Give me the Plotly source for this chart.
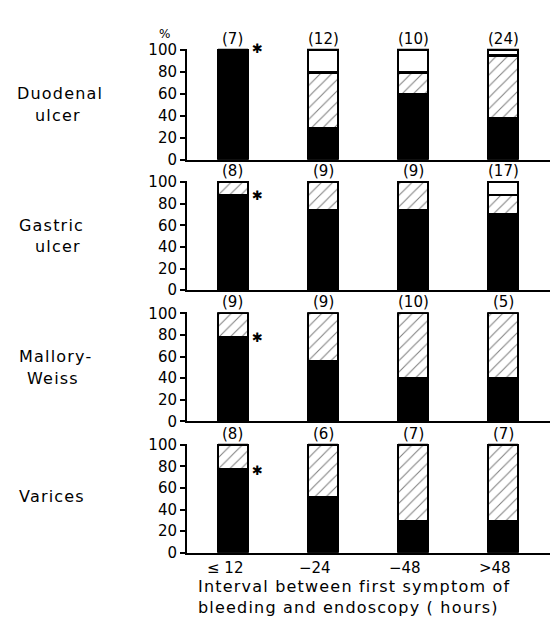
import plotly.graph_objects as go

W, H = 557, 624

categories = ["≤ 12", "−24", "−48", ">48"]
panels = ["Duodenal ulcer", "Gastric ulcer", "Mallory-Weiss", "Varices"]

black_vals = {
    "Duodenal ulcer": [100, 29, 60, 38],
    "Gastric ulcer": [88, 74, 74, 70],
    "Mallory-Weiss": [78, 56, 40, 40],
    "Varices": [78, 52, 30, 30],
}
hatched_vals = {
    "Duodenal ulcer": [0, 50, 19, 57],
    "Gastric ulcer": [12, 26, 26, 18],
    "Mallory-Weiss": [22, 44, 60, 60],
    "Varices": [22, 48, 70, 70],
}
white_vals = {
    "Duodenal ulcer": [0, 21, 21, 5],
    "Gastric ulcer": [0, 0, 0, 12],
    "Mallory-Weiss": [0, 0, 0, 0],
    "Varices": [0, 0, 0, 0],
}
counts = {
    "Duodenal ulcer": ["(7)", "(12)", "(10)", "(24)"],
    "Gastric ulcer": ["(8)", "(9)", "(9)", "(17)"],
    "Mallory-Weiss": ["(9)", "(9)", "(10)", "(5)"],
    "Varices": ["(8)", "(6)", "(7)", "(7)"],
}
star_level = {"Duodenal ulcer": 101, "Gastric ulcer": 88, "Mallory-Weiss": 78, "Varices": 76}
label_lines = {
    "Duodenal ulcer": [("Duodenal", 15), ("ulcer", 33)],
    "Gastric ulcer": [("Gastric", 17), ("ulcer", 33)],
    "Mallory-Weiss": [("Mallory-", 17), ("Weiss", 25)],
    "Varices": [("Varices", 17)],
}
y_ticks = [0, 20, 40, 60, 80, 100]
x_title_lines = ["Interval between first symptom of", "bleeding and endoscopy ( hours)"]

FONT = "DejaVu Sans"
panel_px = [(43, 156), (179, 290), (314, 425), (449, 560)]
YMAX = 101


def spaced(t):
    return '<span style="letter-spacing:1.2px">' + t + "</span>"


def px_x(x):
    return x / W


def px_y(y):
    return 1 - y / H


fig = go.Figure()
x_idx = list(range(len(categories)))

for p, name in enumerate(panels):
    sfx = "" if p == 0 else str(p + 1)
    xa, ya = "x" + sfx, "y" + sfx
    common = dict(x=x_idx, width=0.33, xaxis=xa, yaxis=ya, showlegend=False, hoverinfo="skip")
    fig.add_trace(go.Bar(y=black_vals[name], marker=dict(color="black", line=dict(color="black", width=2)), **common))
    fig.add_trace(go.Bar(y=hatched_vals[name],
                         marker=dict(color="white", line=dict(color="black", width=2),
                                     pattern=dict(shape="/", fgcolor="black", bgcolor="white", size=8, solidity=0.13)),
                         **common))
    fig.add_trace(go.Bar(y=white_vals[name], marker=dict(color="white", line=dict(color="black", width=2.5)), **common))

    top, bot = panel_px[p]
    pxh = (bot - top) / 100.0 * YMAX
    dom = [px_y(bot), px_y(bot - pxh)]
    fig.layout["yaxis" + sfx] = dict(
        domain=dom, range=[0, YMAX], tickvals=y_ticks, ticktext=[str(v) for v in y_ticks],
        ticks="outside", ticklen=5, tickwidth=2, tickcolor="black",
        showline=True, linewidth=2, linecolor="black", showgrid=False, zeroline=False,
        tickfont=dict(family=FONT, size=15, color="black"), anchor=xa,
    )
    fig.layout["xaxis" + sfx] = dict(
        domain=[px_x(187), px_x(550)], range=[-0.51, 3.52], anchor=ya,
        showline=True, linewidth=2, linecolor="black", showgrid=False, zeroline=False,
        showticklabels=False, ticks="",
    )
    for i, c in enumerate(counts[name]):
        fig.add_annotation(x=i, y=100, xref=xa, yref=ya, text=c, showarrow=False, yshift=11,
                           font=dict(family=FONT, size=15, color="black"))
    fig.add_annotation(x=0.27, y=star_level[name], xref=xa, yref=ya, text="✱", showarrow=False,
                       font=dict(family=FONT, size=13, color="black"))
    for j, (txt, xl) in enumerate(label_lines[name]):
        lvl = 60 if j == 0 else 40
        if name == "Varices":
            lvl = 52
        ypx = bot - (bot - top) * lvl / 100.0
        fig.add_annotation(x=px_x(xl), y=px_y(ypx), xref="paper", yref="paper", text=spaced(txt),
                           showarrow=False, xanchor="left", yanchor="middle",
                           font=dict(family=FONT, size=16, color="black"))

# category labels under the bottom panel
for i, c in enumerate(categories):
    fig.add_annotation(x=i, y=0, xref="x4", yref="y4", text=c, showarrow=False, yanchor="middle",
                       yshift=-15, xshift=-8, font=dict(family=FONT, size=15, color="black"))

fig.add_annotation(x=px_x(157), y=px_y(17), xref="paper", yref="paper", text="%", showarrow=False,
                   font=dict(family=FONT, size=12, color="black"))
fig.add_annotation(x=px_x(196), y=px_y(605), xref="paper", yref="paper",
                   text="<br>".join(spaced(t) for t in x_title_lines),
                   showarrow=False, xanchor="left", yanchor="middle", align="left",
                   font=dict(family=FONT, size=16, color="black"))

fig.update_layout(width=W, height=H, margin=dict(l=0, r=0, t=0, b=0), barmode="stack",
                  plot_bgcolor="white", paper_bgcolor="white", bargap=0)
fig.write_html("out.html", config={"displayModeBar": False},
               post_script="document.body.style.margin='0';document.body.style.overflow='hidden';")
